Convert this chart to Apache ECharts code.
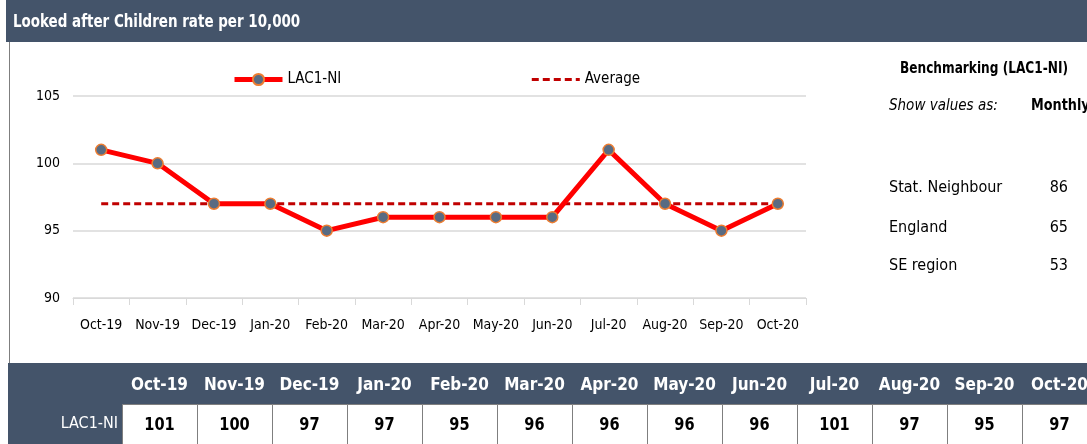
<!DOCTYPE html>
<html>
<head>
<meta charset="utf-8">
<script src="https://cdn.jsdelivr.net/npm/echarts@6/dist/echarts.min.js"></script>
<style>
  html, body { margin: 0; padding: 0; background: #fff; }
  #chart { width: 1087px; height: 444px; }
</style>
</head>
<body>
<div id="chart"></div>
<script>
// months on the axis and in the table below
var months = ['Oct-19', 'Nov-19', 'Dec-19', 'Jan-20', 'Feb-20', 'Mar-20', 'Apr-20',
    'May-20', 'Jun-20', 'Jul-20', 'Aug-20', 'Sep-20', 'Oct-20'];
// LAC1-NI rate per 10,000
var lacValues = [101, 100, 97, 97, 95, 96, 96, 96, 96, 101, 97, 95, 97];
// average line (as drawn)
var avgValues = [97, 97, 97, 97, 97, 97, 97, 97, 97, 97, 97, 97, 97];
// y axis ticks
var yTicks = [90, 95, 100, 105];
// benchmarking panel
var benchNames = ['Stat. Neighbour', 'England', 'SE region'];
var benchValues = [86, 65, 53];

var FONT = '"DejaVu Sans Condensed", "Liberation Sans Narrow", sans-serif';
var DARK = '#44546A';

var chart = echarts.init(document.getElementById('chart'));

// text helper, sx squeezes the text a bit so it looks like the narrow original
var txt = function (x, y, text, font, fill, align, sx) {
    return {
        type: 'text', x: x, y: y, scaleX: sx || 1,
        style: { text: text, fill: fill, font: font + ' ' + FONT, textAlign: align || 'left', textVerticalAlign: 'middle' }
    };
};

var graphics = [];
// title bar
graphics.push({ type: 'rect', shape: { x: 6, y: 0, width: 1081, height: 42 }, style: { fill: DARK }, silent: true });
graphics.push(txt(13, 23, 'Looked after Children rate per 10,000', 'bold 17px', '#fff', 'left', 0.88));
// panel border
graphics.push({ type: 'line', shape: { x1: 9.5, y1: 42, x2: 9.5, y2: 363 }, style: { stroke: '#7f7f7f', lineWidth: 1 } });
// table band
graphics.push({ type: 'rect', shape: { x: 8, y: 363, width: 1079, height: 81 }, style: { fill: DARK }, silent: true });
graphics.push(txt(118, 424, 'LAC1-NI', '16px', '#fff', 'right', 1));

// benchmarking text
graphics.push(txt(984, 69, 'Benchmarking (LAC1-NI)', 'bold 15px', '#000', 'center', 0.9));
graphics.push(txt(889, 106, 'Show values as:', 'italic 15px', '#000', 'left', 1));
graphics.push(txt(1031, 106, 'Monthly', 'bold 15px', '#000', 'left', 0.95));
var benchY = [188, 228, 266];
benchNames.forEach(function (name, i) {
    graphics.push(txt(889, benchY[i], name, '16px', '#000', 'left', 1));
    graphics.push(txt(1068, benchY[i], String(benchValues[i]), '16px', '#000', 'right', 1));
});

// table columns
var colW = 75, col0 = 122;
months.forEach(function (m, i) {
    var cx = col0 + i * colW + colW / 2;
    graphics.push(txt(cx, 386, m, 'bold 17px', '#fff', 'center', 1));
    graphics.push({ type: 'rect', shape: { x: col0 + i * colW + 0.5, y: 404.5, width: colW, height: 45 },
        style: { fill: '#fff', stroke: '#7f7f7f', lineWidth: 1 } });
    graphics.push(txt(cx, 425, String(lacValues[i]), 'bold 18px', '#000', 'center', 0.9));
});

var option = {
    animation: false,
    grid: { left: 73, right: 281, top: 96, bottom: 146 },
    legend: {
        top: 67,
        left: 227,
        itemGap: 189,
        itemWidth: 48,
        itemHeight: 14,
        textStyle: { fontFamily: FONT, fontSize: 15, color: '#000' },
        data: [
            { name: 'LAC1-NI', lineStyle: { width: 5 } },
            { name: 'Average', itemStyle: { opacity: 0 }, lineStyle: { width: 3 } }
        ]
    },
    xAxis: {
        type: 'category',
        data: months,
        boundaryGap: true,
        axisLine: { lineStyle: { color: '#d9d9d9' } },
        axisTick: { show: true, length: 7, lineStyle: { color: '#d9d9d9' } },
        axisLabel: { color: '#000', fontFamily: FONT, fontSize: 14, margin: 20, interval: 0 }
    },
    yAxis: {
        type: 'value',
        min: 90,
        max: 105,
        interval: 5,
        axisLine: { show: false },
        axisTick: { show: false },
        axisLabel: { color: '#000', fontFamily: FONT, fontSize: 14, margin: 13,
            formatter: function (v) { return yTicks.indexOf(v) >= 0 ? String(v) : ''; } },
        splitLine: { lineStyle: { color: '#d9d9d9', width: 1.5 } }
    },
    series: [
        {
            name: 'Average',
            type: 'line',
            data: avgValues,
            symbol: 'none',
            lineStyle: { color: '#C00000', width: 3, type: [7, 4] },
            itemStyle: { color: '#C00000' },
            z: 2
        },
        {
            name: 'LAC1-NI',
            type: 'line',
            data: lacValues,
            symbol: 'circle',
            symbolSize: 11,
            lineStyle: { color: '#FF0000', width: 5 },
            itemStyle: { color: '#596B82', borderColor: '#ED7D31', borderWidth: 1.5 },
            z: 3
        }
    ],
    graphic: graphics
};

chart.setOption(option);
</script>
</body>
</html>
